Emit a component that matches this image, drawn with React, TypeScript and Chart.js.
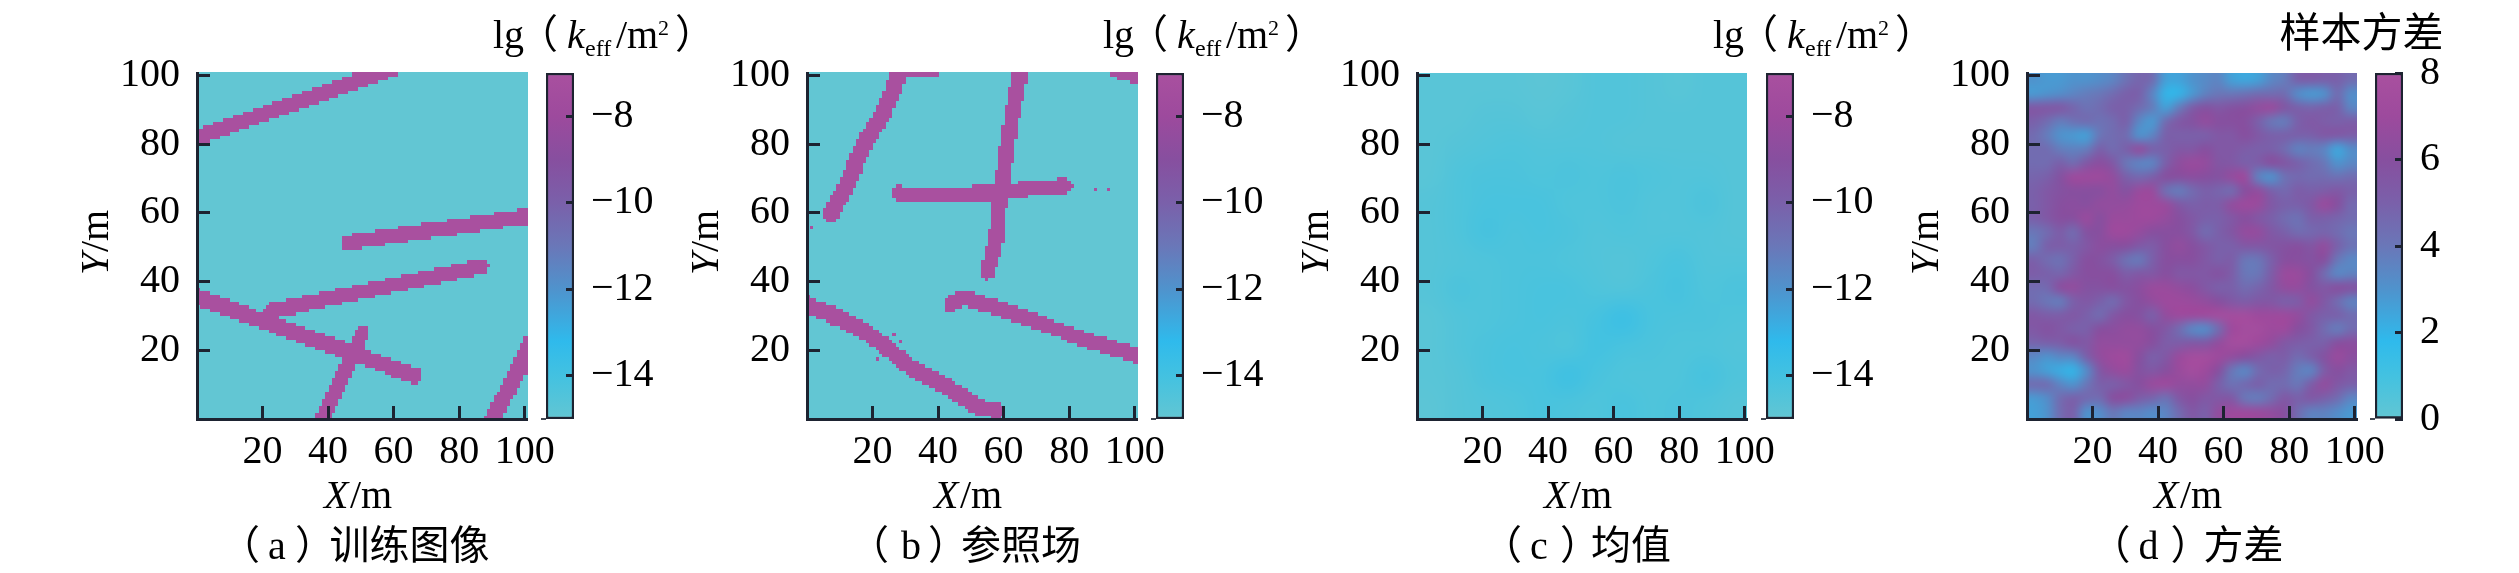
import React, { useEffect, useRef } from "react";
import { Chart, registerables } from "chart.js";

Chart.register(...registerables);

const W = 2519;
const H = 573;

const xyTicks = [20, 40, 60, 80, 100];
const lgTicks = [-14, -12, -10, -8];
const varTicks = [0, 2, 4, 6, 8];
const colorFractions = [0, 0.12, 0.225, 0.375, 0.5, 0.625, 0.75, 0.875, 1];
const colorStops = ["#62c6d3", "#44c2e0", "#2fbaec", "#4f93cd", "#6a77b8", "#7a60aa", "#874f9f", "#9d4a9d", "#a9509f"];

const lgBackground = -15;
const lgFracture = -7;

// fractures: width in metres, then centre-line points [x, y]
const trainingWidths = [4.6, 4.4, 4.4, 4.7, 4.4, 4.8];
const trainingFractures = [
  [[-2, 81.4], [60, 102]],
  [[46, 51.5], [103, 59.4]],
  [[22.5, 31.5], [87, 44.5]],
  [[-2, 36.3], [66.5, 12.8]],
  [[50.5, 25], [37.5, -2]],
  [[103, 25], [97, 12], [89, -2]],
];

// fractures
const referenceWidths = [5, 4.6, 4.4, 2.6, 4.8, 4.4, 2];
const referenceFractures = [
  [[7.6, 60], [12.4, 68.6], [17.1, 79.3], [23.3, 88.8], [26.7, 96.2], [28.5, 103]],
  [[55.2, 43], [58, 52.7], [58.6, 61], [60, 70.7], [62, 84.6], [64, 95], [66, 103]],
  [[28, 65.8], [42.3, 65.5], [57.3, 66], [70.9, 67.5], [79, 67.9]],
  [[94, 100.7], [103, 98.5]],
  [[-2, 34.2], [9.7, 29.8], [20.5, 24], [31.4, 15.4], [43.7, 9], [53, 3.4], [58, 2.6]],
  [[44, 33.5], [47.8, 35.4], [58.6, 32.4], [72.2, 27.7], [85.9, 22.9], [103, 18]],
  [[28, 100.5], [39, 100.5]],
];
const referenceSpots = [[87, 66], [91, 66], [1, 55], [7, 27], [26, 24], [28, 22], [21, 17]];

// mean of lg(k), rows from the top of the panel
const meanField = [
  [-14.7, -14.7, -14.7, -14.7, -14.8, -14.7, -14.5, -14.5, -14.6, -14.7, -14.6, -14.6],
  [-14.7, -14.7, -14.6, -14.6, -14.7, -14.6, -14.5, -14.5, -14.6, -14.6, -14.6, -14.6],
  [-14.7, -14.6, -14.5, -14.4, -14.5, -14.5, -14.5, -14.6, -14.6, -14.6, -14.6, -14.6],
  [-14.7, -14.4, -14.3, -14.3, -14.4, -14.3, -14.4, -14.3, -14.4, -14.5, -14.5, -14.6],
  [-14.6, -14.4, -14.2, -14.2, -14.2, -14.4, -14.4, -14.3, -14.5, -14.5, -14.3, -14.6],
  [-14.6, -14.4, -14.1, -14.3, -14.2, -14.3, -14.5, -14.4, -14.5, -14.5, -14.5, -14.6],
  [-14.6, -14.5, -14.4, -14.3, -14.3, -14.4, -14.5, -14.6, -14.4, -14.2, -14.5, -14.5],
  [-14.6, -14.3, -14.4, -14.3, -14.2, -14.2, -14.4, -14.5, -14.3, -14.1, -14.4, -14.3],
  [-14.7, -14.5, -14.4, -14.3, -14.2, -14.3, -14.1, -13.7, -14.2, -14.3, -14.3, -14.4],
  [-14.7, -14.5, -14.3, -14.2, -14.3, -14.4, -14.0, -14.2, -14.3, -14.4, -14.4, -14.5],
  [-14.7, -14.6, -14.3, -14.2, -14.2, -13.8, -14.2, -14.4, -14.4, -14.4, -14.1, -14.4],
  [-14.8, -14.6, -14.5, -14.4, -14.2, -14.3, -14.4, -14.2, -14.4, -14.3, -14.4, -14.6],
];

// sample variance, rows from the top of the panel
const varianceField = [
  [3.0, 2.8, 2.8, 3, 3, 3.2, 3.5, 4.2, 4.8, 4.5, 2.6, 2.5, 3, 3.3, 3.5, 2.6, 2.4, 2.6, 3.4, 3.8, 5, 5.2, 5, 5, 4.5],
  [2.8, 3, 3.2, 3.5, 3.8, 4, 4.5, 5, 5, 3.5, 2.0, 2.0, 2.8, 3.6, 4, 4, 4.2, 4.5, 4.5, 4.5, 3.2, 2.8, 3, 4.5, 3.2],
  [5.5, 5.5, 5.5, 4.8, 4.2, 4.5, 5, 5, 4.5, 3.8, 2.6, 3.8, 5.2, 5.8, 5.5, 5.8, 6, 6.5, 6.8, 5.6, 5, 4.8, 5, 5, 3.5],
  [5, 4.5, 3.8, 4.2, 4.5, 4.2, 4.5, 5, 3.4, 2.8, 4.5, 5.5, 5.8, 6.5, 6, 6, 6, 5, 4, 3.8, 5, 5.5, 5.2, 5, 5.2],
  [4.5, 3.8, 3.0, 2.8, 2.6, 4, 4.5, 4.5, 3, 3.5, 5, 5, 5, 5, 5.5, 5.5, 6, 5.5, 5, 5, 5, 5, 5.5, 5.5, 5.2],
  [4.5, 4.5, 3.8, 3.6, 3.8, 5, 4.5, 5, 6.5, 5, 5, 5.5, 5.5, 6, 5.5, 5.5, 5.2, 5, 5, 4.5, 3.6, 3.8, 3.5, 2.4, 3.2],
  [4.5, 4.5, 5, 4.5, 5.5, 6.2, 5.5, 4, 3.5, 3.5, 5, 6.3, 6.8, 6.6, 5.6, 5.5, 5, 5.2, 6, 5.6, 5, 4.5, 4, 3, 3.4],
  [4.8, 5, 5.8, 7, 7, 7, 6.5, 5, 4.6, 5, 6, 6, 6.2, 6, 5.8, 6.6, 7, 3.6, 3.0, 4.2, 4.6, 4.5, 4.5, 4.2, 4.5],
  [5, 5.5, 5.8, 6, 6, 6, 6.5, 5.8, 6.8, 6.8, 4.3, 3.8, 4.5, 5, 4.8, 4.5, 6, 6.5, 5, 4.6, 5.2, 5, 5.2, 5.5, 5],
  [5, 5.5, 6, 6.2, 6, 6.5, 6.5, 6.6, 7, 7, 6.8, 5.5, 5, 5.2, 5.2, 6.5, 7, 6.8, 5.5, 5, 5, 5.5, 6.8, 6, 4.6],
  [5, 5.5, 6, 6, 6.8, 6, 6.8, 6.8, 7, 7, 6.6, 6, 5.5, 5, 5, 5.5, 6, 5.5, 5, 4.5, 4.2, 5, 5, 4.8, 4.5],
  [4, 4.5, 5.2, 4.5, 5.8, 6, 7, 7, 6.6, 6, 6, 6, 5.5, 4.5, 5, 5.6, 6.6, 6.6, 5.5, 5, 4.5, 4.6, 4.8, 4.5, 4],
  [3.8, 5, 5.2, 5, 5.5, 6.2, 6, 6, 5.4, 5.2, 6, 6.5, 6, 5.5, 5, 5, 5.5, 5.5, 5.6, 5.8, 6, 5.6, 6.5, 5, 4.2],
  [5, 4.5, 4.2, 5, 6, 5.8, 5.2, 4.2, 3.9, 5, 6, 6, 6, 5.5, 5, 5.2, 4, 4, 5, 6, 6, 5.8, 6, 4, 3.4],
  [5.2, 5, 4.8, 5.5, 6, 6, 6, 5.2, 5.5, 5.5, 6, 5.5, 5.5, 5.5, 5.8, 5.2, 4, 4, 5.2, 6.8, 6.8, 6, 4.5, 3.4, 3.6],
  [4.5, 4.6, 6.2, 6.5, 5.8, 5.8, 6, 5.8, 6.2, 6.8, 6.8, 6.5, 6.2, 5.5, 5, 5, 4.5, 4.8, 5.5, 6.5, 6.6, 5.8, 5.5, 6, 5.8],
  [4.5, 4, 3.8, 5, 5.5, 5, 4.5, 5.5, 6, 6.5, 7, 7, 6.8, 6.5, 6, 5.5, 5.2, 5.5, 5.5, 5, 5.2, 6.5, 5.5, 4.5, 3.6],
  [5.5, 5.2, 5.2, 5.5, 5, 4.5, 5.5, 6, 5.8, 5, 6.5, 7, 7, 7.2, 7.5, 7.5, 7.5, 7, 7, 7, 6.6, 5.5, 5, 5, 4.5],
  [5.5, 5.8, 5.5, 5, 5, 6, 6.2, 6.5, 6.5, 6, 5.5, 4.5, 3.4, 3.2, 4.5, 7, 7.5, 7.5, 7, 7, 6, 5.5, 4.5, 3.8, 4.5],
  [4.8, 5, 5.2, 5.8, 5.5, 6.5, 6.5, 6.5, 6.5, 6, 5.2, 5.2, 5.5, 5.5, 6.5, 7.5, 7.5, 7, 6.5, 5.5, 5.2, 5, 5, 6, 6.2],
  [3.4, 3.0, 3.4, 3.5, 5, 6.5, 7, 7.2, 6, 5, 5.5, 6.8, 7.5, 7.5, 7, 6.5, 6, 5.5, 5, 5.2, 4.5, 5, 5.8, 6.8, 6.2],
  [3.0, 2.6, 2.2, 2.0, 3.2, 5.5, 6.5, 6.8, 5.8, 5.5, 6, 6.8, 7.5, 7, 6, 4, 3.4, 4.5, 5, 4.8, 3.8, 3.5, 5.2, 6, 5.5],
  [4.5, 4.5, 3.5, 3.0, 4, 5, 5, 5.5, 6, 6.8, 7, 6.5, 6.5, 6.5, 5, 4.2, 4.6, 5, 4.5, 4.5, 4, 5.2, 6.5, 5.5, 5],
  [2.8, 3.2, 4.5, 5, 4.6, 4.5, 6, 6.2, 5.2, 4.8, 4.2, 5.5, 6, 5.5, 5.5, 5.5, 4, 3.8, 4.5, 5.5, 5, 5.5, 5, 4.5, 3.5],
  [2.6, 3, 4.5, 5, 3, 3.2, 4, 3.5, 3.5, 3.2, 3.5, 4.5, 5.5, 5, 6.5, 7, 7, 6.8, 6.5, 6, 4.5, 3.6, 3.6, 3.2, 2.8],
];

const SPAN = 100.7;
const SERIF = '"Liberation Serif", "Noto Sans CJK SC", serif';
const CJK = '"Noto Sans CJK SC", "Liberation Serif", sans-serif';
const INK = "#1d2331";
const TEXT_SIZE = 40;

type Cell = { x: number; y: number; v: number };

function hexRgb(h: string) {
  return [1, 3, 5].map((i) => parseInt(h.slice(i, i + 2), 16));
}
function colorAt(f: number) {
  const t = Math.max(0, Math.min(1, f));
  let i = 0;
  while (i < colorFractions.length - 2 && t > colorFractions[i + 1]) i++;
  const k = (t - colorFractions[i]) / (colorFractions[i + 1] - colorFractions[i]);
  const a = hexRgb(colorStops[i]);
  const b = hexRgb(colorStops[i + 1]);
  return `rgb(${a.map((c, j) => Math.round(c + (b[j] - c) * k)).join(",")})`;
}

function segDist(px: number, py: number, a: number[], b: number[]) {
  const dx = b[0] - a[0];
  const dy = b[1] - a[1];
  const t = Math.max(0, Math.min(1, ((px - a[0]) * dx + (py - a[1]) * dy) / (dx * dx + dy * dy)));
  return Math.hypot(px - a[0] - t * dx, py - a[1] - t * dy);
}

function fractureCells(lines: number[][][], widths: number[], spots: number[][]): Cell[] {
  const out: Cell[] = [];
  const n = 100;
  const size = SPAN / n;
  for (let j = 0; j < n; j++) {
    for (let i = 0; i < n; i++) {
      const x = (i + 0.5) * size;
      const y = (j + 0.5) * size;
      let on = spots.some((s) => s[0] === i && s[1] === j);
      lines.forEach((line, li) => {
        for (let k = 0; k < line.length - 1 && !on; k++) {
          if (segDist(x, y, line[k], line[k + 1]) <= widths[li] / 2) on = true;
        }
      });
      out.push({ x, y, v: on ? lgFracture : lgBackground });
    }
  }
  return out;
}

function fieldCells(rows: number[][]): Cell[] {
  const out: Cell[] = [];
  const nr = rows.length;
  const nc = rows[0].length;
  rows.forEach((row, r) =>
    row.forEach((v, c) => {
      out.push({ x: ((c + 0.5) * SPAN) / nc, y: SPAN - ((r + 0.5) * SPAN) / nr, v });
    })
  );
  return out;
}

type Run = { t: string; x: number; y: number; font: string };

function drawRuns(ctx: CanvasRenderingContext2D, runs: Run[]) {
  ctx.save();
  ctx.fillStyle = "#000";
  ctx.textAlign = "left";
  ctx.textBaseline = "alphabetic";
  runs.forEach((r) => {
    ctx.font = r.font;
    ctx.fillText(r.t, r.x, r.y);
  });
  ctx.restore();
}

const PLOT_TOP = 73;
const PLOT_BOTTOM = 419;
const LEFT = 150;
const RIGHT_PAD = 45;
const PLOT_W = 330;

function makePlot(canvas: HTMLCanvasElement, p: any) {
  const left = p.plotLeft - LEFT;
  const heat = {
    id: "heat",
    beforeDatasetsDraw(chart: any) {
      const { ctx, scales } = chart;
      const cells: Cell[] = chart.data.datasets[0].data;
      const sx = scales.x;
      const sy = scales.y;
      const hw = (SPAN / p.nx) / 2;
      const hh = (SPAN / p.ny) / 2;
      if (p.smooth) {
        const off = document.createElement("canvas");
        off.width = p.nx;
        off.height = p.ny;
        const o = off.getContext("2d")!;
        cells.forEach((c) => {
          o.fillStyle = colorAt((c.v - p.min) / (p.max - p.min));
          o.fillRect(Math.floor(c.x / (2 * hw)), Math.floor((SPAN - c.y) / (2 * hh)), 1, 1);
        });
        ctx.save();
        ctx.imageSmoothingEnabled = true;
        ctx.imageSmoothingQuality = "high";
        const x0 = sx.getPixelForValue(0);
        const x1 = sx.getPixelForValue(SPAN);
        const y0 = sy.getPixelForValue(SPAN);
        const y1 = sy.getPixelForValue(0);
        ctx.drawImage(off, x0, y0, x1 - x0, y1 - y0);
        ctx.restore();
      } else {
        cells.forEach((c) => {
          const x0 = Math.floor(sx.getPixelForValue(c.x - hw));
          const x1 = Math.ceil(sx.getPixelForValue(c.x + hw));
          const y0 = Math.floor(sy.getPixelForValue(c.y + hh));
          const y1 = Math.ceil(sy.getPixelForValue(c.y - hh));
          ctx.fillStyle = colorAt((c.v - p.min) / (p.max - p.min));
          ctx.fillRect(x0, y0, x1 - x0, y1 - y0);
        });
      }
    },
    afterDraw(chart: any) {
      const { ctx } = chart;
      const num = `${TEXT_SIZE}px ${SERIF}`;
      const ital = `italic ${TEXT_SIZE}px ${SERIF}`;
      const xt = LEFT + 127;
      drawRuns(ctx, [
        { t: "X", x: xt, y: 508, font: ital },
        { t: "/m", x: xt + 26, y: 508, font: num },
      ]);
      ctx.save();
      ctx.translate(LEFT - 89, 275);
      ctx.rotate(-Math.PI / 2);
      drawRuns(ctx, [
        { t: "Y", x: 0, y: 0, font: ital },
        { t: "/m", x: 23, y: 0, font: num },
      ]);
      ctx.restore();
      const [a, b, c, d] = p.capX.map((v: number) => v - left);
      drawRuns(ctx, [
        { t: "（", x: a - 25, y: 559, font: `${TEXT_SIZE}px ${CJK}` },
        { t: p.letter, x: b, y: 559, font: `${TEXT_SIZE}px ${SERIF}` },
        { t: "）", x: c - 4, y: 559, font: `${TEXT_SIZE}px ${CJK}` },
        { t: p.caption, x: d, y: 559, font: `${TEXT_SIZE}px ${CJK}` },
      ]);
    },
  };
  const dropPadding = (s: any) => {
    s.paddingLeft = 0;
    s.paddingRight = 0;
    s.paddingTop = 0;
    s.paddingBottom = 0;
  };
  return new Chart(canvas, {
    type: "scatter",
    data: {
      datasets: [{ data: p.cells, pointRadius: 0, pointHoverRadius: 0, showLine: false }],
    },
    plugins: [heat],
    options: {
      responsive: false,
      animation: false,
      devicePixelRatio: 1,
      events: [],
      layout: { padding: { top: PLOT_TOP, right: RIGHT_PAD, left: 0, bottom: 0 } },
      plugins: { legend: { display: false }, tooltip: { enabled: false }, title: { display: false } },
      scales: {
        x: {
          type: "linear",
          min: 0,
          max: SPAN,
          afterFit(s: any) {
            s.height = H - PLOT_BOTTOM;
            dropPadding(s);
          },
          afterBuildTicks(s: any) {
            s.ticks = xyTicks.map((value) => ({ value }));
          },
          border: { display: true, color: INK, width: 3, z: 1 },
          grid: { drawOnChartArea: false, drawTicks: true, tickLength: -13, tickWidth: 3, tickColor: INK, z: 1 },
          ticks: { color: "#000", font: { family: SERIF, size: TEXT_SIZE }, padding: 22, maxRotation: 0, autoSkip: false },
        },
        y: {
          type: "linear",
          min: 0,
          max: SPAN,
          afterFit(s: any) {
            s.width = LEFT;
            dropPadding(s);
          },
          afterBuildTicks(s: any) {
            s.ticks = xyTicks.map((value) => ({ value }));
          },
          border: { display: true, color: INK, width: 3, z: 1 },
          grid: { drawOnChartArea: false, drawTicks: true, tickLength: -13, tickWidth: 3, tickColor: INK, z: 1 },
          ticks: { color: "#000", font: { family: SERIF, size: TEXT_SIZE }, padding: 30, autoSkip: false },
        },
      },
    } as any,
  });
}

const CB_LEFT = 110;
const CB_W = 28;

function makeBar(canvas: HTMLCanvasElement, p: any) {
  const cw = canvas.width;
  const titlePlugin = {
    id: "cbTitle",
    afterDraw(chart: any) {
      const { ctx, scales } = chart;
      const yb = scales.y.getPixelForValue(p.min);
      ctx.save();
      ctx.strokeStyle = "#444a55";
      ctx.lineWidth = 2;
      ctx.beginPath();
      ctx.moveTo(CB_LEFT - 5, yb);
      ctx.lineTo(CB_LEFT, yb);
      ctx.stroke();
      ctx.restore();
      if (p.plainTitle) {
        drawRuns(ctx, [{ t: p.plainTitle, x: CB_LEFT - 95.5, y: 47, font: `41px ${CJK}` }]);
      } else {
        const x = CB_LEFT - 53;
        const f = `${TEXT_SIZE}px ${SERIF}`;
        drawRuns(ctx, [
          { t: "lg", x, y: 48, font: f },
          { t: "（", x: x + 25, y: 48, font: `${TEXT_SIZE}px ${CJK}` },
          { t: "k", x: x + 74, y: 48, font: `italic ${TEXT_SIZE}px ${SERIF}` },
          { t: "eff", x: x + 92, y: 56, font: `24px ${SERIF}` },
          { t: "/m", x: x + 123, y: 48, font: f },
          { t: "2", x: x + 165, y: 35, font: `22px ${SERIF}` },
          { t: "）", x: x + 182, y: 48, font: `${TEXT_SIZE}px ${CJK}` },
        ]);
      }
    },
  };
  return new Chart(canvas, {
    type: "bar",
    data: {
      labels: ["colour"],
      datasets: [
        {
          data: [[p.min, p.max]],
          barPercentage: 1,
          categoryPercentage: 1,
          borderWidth: 2.5,
          borderColor: INK,
          borderSkipped: false,
          backgroundColor(ctx: any) {
            const g = ctx.chart.ctx.createLinearGradient(0, PLOT_BOTTOM, 0, PLOT_TOP);
            colorFractions.forEach((f, i) => g.addColorStop(f, colorStops[i]));
            return g;
          },
        },
      ],
    },
    plugins: [titlePlugin],
    options: {
      responsive: false,
      animation: false,
      devicePixelRatio: 1,
      events: [],
      layout: { padding: { top: PLOT_TOP, left: CB_LEFT, right: 0, bottom: H - PLOT_BOTTOM } },
      plugins: { legend: { display: false }, tooltip: { enabled: false }, title: { display: false } },
      scales: {
        x: { display: false },
        y: {
          position: "right",
          min: p.min,
          max: p.max,
          afterFit(s: any) {
            s.width = cw - CB_LEFT - CB_W;
            s.paddingTop = 0;
            s.paddingBottom = 0;
          },
          afterBuildTicks(s: any) {
            s.ticks = p.ticks.map((value: number) => ({ value }));
          },
          border: { display: false },
          grid: { drawOnChartArea: false, drawTicks: true, tickLength: -8, tickWidth: 3, tickColor: INK, z: 1 },
          ticks: {
            color: "#000",
            font: { family: SERIF, size: TEXT_SIZE },
            padding: 25,
            autoSkip: false,
            callback: (v: number) => String(v).replace("-", "\u2212"),
          },
        },
      },
    } as any,
  });
}

const panels = [
  {
    letter: "a", caption: "训练图像", plotLeft: 197, barLeft: 545.5, capX: [245, 268, 299, 329.5],
    cells: fractureCells(trainingFractures, trainingWidths, []), nx: 100, ny: 100, smooth: false,
    min: lgBackground, max: lgFracture, ticks: lgTicks,
  },
  {
    letter: "b", caption: "参照场", plotLeft: 807, barLeft: 1155.5, capX: [874, 901, 932, 961],
    cells: fractureCells(referenceFractures, referenceWidths, referenceSpots), nx: 100, ny: 100, smooth: false,
    min: lgBackground, max: lgFracture, ticks: lgTicks,
  },
  {
    letter: "c", caption: "均值", plotLeft: 1417, barLeft: 1765.5, capX: [1507, 1530, 1564, 1591],
    cells: fieldCells(meanField), nx: meanField[0].length, ny: meanField.length, smooth: true,
    min: lgBackground, max: lgFracture, ticks: lgTicks,
  },
  {
    letter: "d", caption: "方差", plotLeft: 2026.5, barLeft: 2374.5, capX: [2115, 2138, 2174, 2203],
    cells: fieldCells(varianceField), nx: varianceField[0].length, ny: varianceField.length, smooth: true,
    min: 0, max: 8, ticks: varTicks, plainTitle: "样本方差",
  },
];

function Panel({ p }: { p: any }) {
  const plotRef = useRef<HTMLCanvasElement>(null);
  const barRef = useRef<HTMLCanvasElement>(null);
  useEffect(() => {
    const a = makePlot(plotRef.current!, p);
    const b = makeBar(barRef.current!, p);
    return () => {
      a.destroy();
      b.destroy();
    };
  }, [p]);
  const plotW = LEFT + PLOT_W + RIGHT_PAD;
  return (
    <>
      <canvas
        ref={plotRef}
        width={plotW}
        height={H}
        style={{ position: "absolute", left: p.plotLeft - LEFT, top: 0, width: plotW, height: H }}
      />
      <canvas
        ref={barRef}
        width={280}
        height={H}
        style={{ position: "absolute", left: p.barLeft - CB_LEFT, top: 0, width: 280, height: H }}
      />
    </>
  );
}

export default function App() {
  useEffect(() => {
    document.body.style.margin = "0";
    document.body.style.background = "#fff";
  }, []);
  return (
    <div style={{ position: "absolute", left: 0, top: 0, width: W, height: H, overflow: "hidden", background: "#fff" }}>
      {panels.map((p) => (
        <Panel key={p.letter} p={p} />
      ))}
    </div>
  );
}
